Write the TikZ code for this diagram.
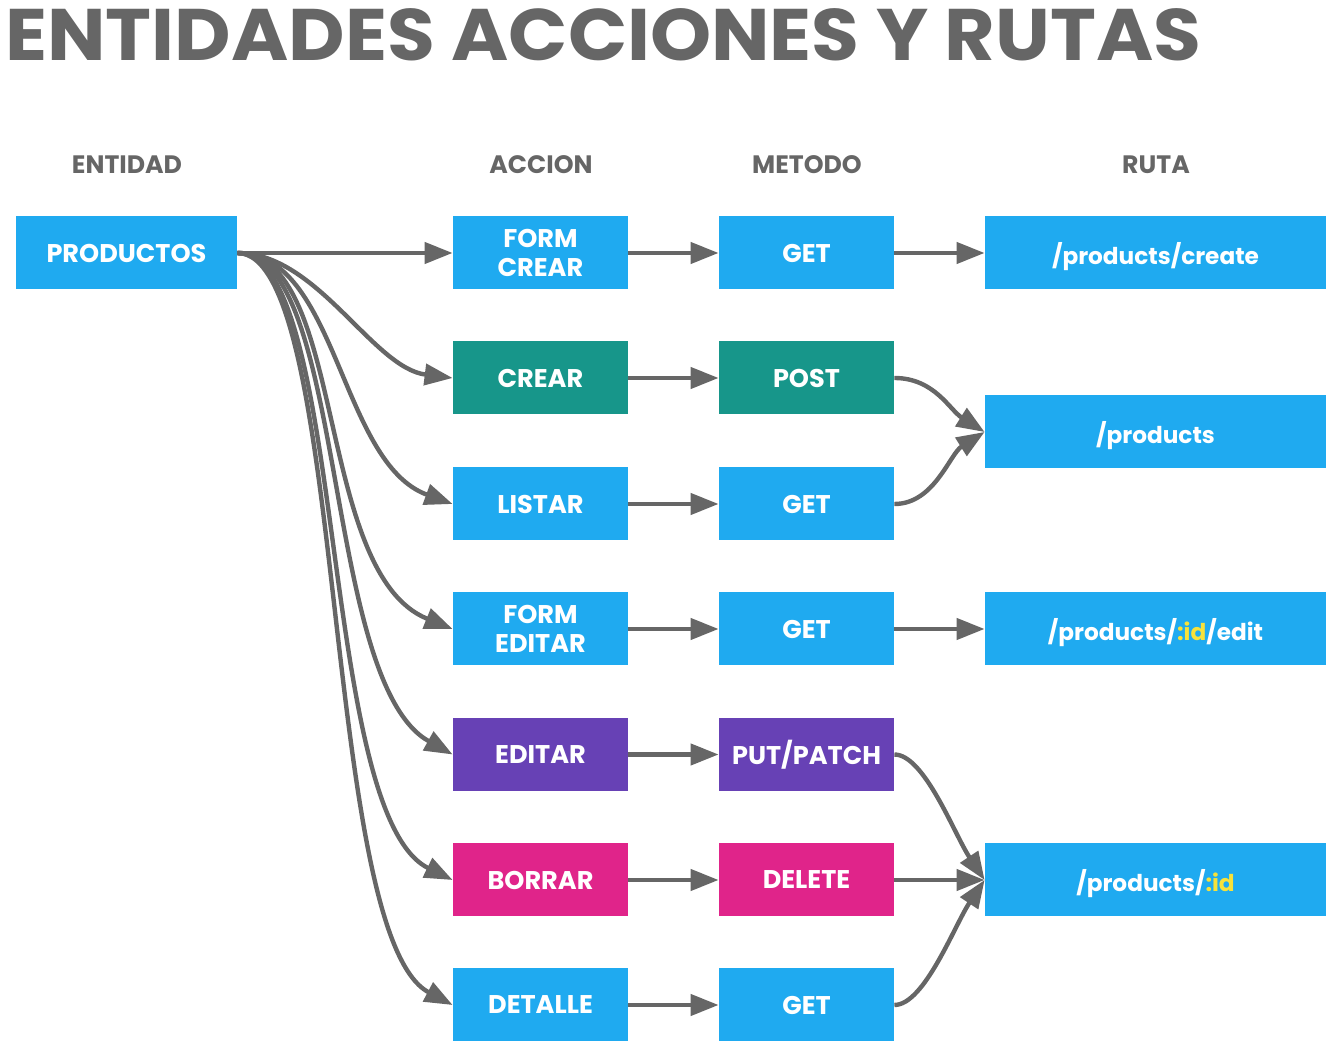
\documentclass[tikz,border=0pt]{standalone}
\usepackage{fontspec}
\usepackage{graphicx}
\setmainfont{Poppins}
\usetikzlibrary{arrows.meta}
\definecolor{cblue}{HTML}{1FAAF0}
\definecolor{cteal}{HTML}{17968A}
\definecolor{cpurple}{HTML}{6741B5}
\definecolor{cpink}{HTML}{E0248A}
\definecolor{cyellow}{HTML}{F7E23A}
\definecolor{cgrey}{HTML}{666666}
\begin{document}
\begin{tikzpicture}[x=0.5pt,y=-0.5pt,
  box/.style={rectangle, inner sep=0pt, minimum height=36.5pt, text=white,
    font=\bfseries\fontsize{12.8}{14.5}\selectfont, align=center},
  act/.style={box, minimum width=87.5pt},
  route/.style={box, minimum width=170.5pt, text depth=0pt,
    font=\bfseries\fontsize{11.6}{14}\selectfont},
  hdr/.style={inner sep=0pt, text=cgrey, font=\bfseries\fontsize{12.6}{14}\selectfont},
  conn/.style={draw=cgrey, line width=2.2pt, -{Triangle[length=14pt,width=10.5pt]}},
]
\useasboundingbox (0,0) rectangle (1340,1052);

\node[inner sep=0pt, anchor=base west, text=cgrey,
  font=\bfseries\fontsize{36.5}{40}\selectfont] (title) at (5,61)
  {\scalebox{1.065}[1]{ENTIDADES ACCIONES Y RUTAS}};

\node[hdr] (h1) at (127,165) {ENTIDAD};
\node[hdr] (h2) at (541,165) {ACCION};
\node[hdr] (h3) at (807,165) {METODO};
\node[hdr] (h4) at (1156,165) {RUTA};

\node[box, minimum width=110.5pt, fill=cblue] (prod) at (126.5,253) {PRODUCTOS};

\node[act, fill=cblue]   (a1) at (540.5,253)  {FORM\\CREAR};
\node[act, fill=cteal]   (a2) at (540.5,378)  {CREAR};
\node[act, fill=cblue]   (a3) at (540.5,504)  {LISTAR};
\node[act, fill=cblue]   (a4) at (540.5,629)  {FORM\\EDITAR};
\node[act, fill=cpurple] (a5) at (540.5,754.5){EDITAR};
\node[act, fill=cpink]   (a6) at (540.5,880)  {BORRAR};
\node[act, fill=cblue]   (a7) at (540.5,1005) {DETALLE};

\node[act, fill=cblue]   (m1) at (806.5,253)  {GET};
\node[act, fill=cteal]   (m2) at (806.5,378)  {POST};
\node[act, fill=cblue]   (m3) at (806.5,504)  {GET};
\node[act, fill=cblue]   (m4) at (806.5,629)  {GET};
\node[act, fill=cpurple] (m5) at (806.5,754.5){PUT/PATCH};
\node[act, fill=cpink]   (m6) at (806.5,880)  {DELETE};
\node[act, fill=cblue]   (m7) at (806.5,1005) {GET};

\node[route, fill=cblue] (r1) at (1155.5,253) {/products/create};
\node[route, fill=cblue] (r2) at (1155.5,432) {/products};
\node[route, fill=cblue] (r3) at (1155.5,629) {/products/\textcolor{cyellow}{:id}/edit};
\node[route, fill=cblue] (r4) at (1155.5,880) {/products/\textcolor{cyellow}{:id}};

% entity -> actions
\draw[conn] (prod.east) -- (a1.west);
\draw[conn] (prod.east) .. controls +(80,0) and +(-80,-10) .. (a2.west);
\draw[conn] (prod.east) .. controls +(100,0) and +(-113,-41) .. (a3.west);
\draw[conn] (prod.east) .. controls +(110,0) and +(-139,-56) .. (a4.west);
\draw[conn] (prod.east) .. controls +(110,0) and +(-131,-73) .. (a5.west);
\draw[conn] (prod.east) .. controls +(110,0) and +(-135,-66) .. (a6.west);
\draw[conn] (prod.east) .. controls +(110,0) and +(-132,-70) .. (a7.west);

% actions -> methods
\foreach \i in {1,...,7} {\draw[conn] (a\i.east) -- (m\i.west);}

% methods -> routes
\draw[conn] (m1.east) -- (r1.west);
\draw[conn] (m2.east) .. controls +(40,0) and +(-35,-22) .. (r2.west);
\draw[conn] (m3.east) .. controls +(40,0) and +(-35,22) .. (r2.west);
\draw[conn] (m4.east) -- (r3.west);
\draw[conn] (m5.east) .. controls +(30,0) and +(-30,-45) .. (r4.west);
\draw[conn] (m6.east) -- (r4.west);
\draw[conn] (m7.east) .. controls +(30,0) and +(-30,45) .. (r4.west);
\end{tikzpicture}
\end{document}
